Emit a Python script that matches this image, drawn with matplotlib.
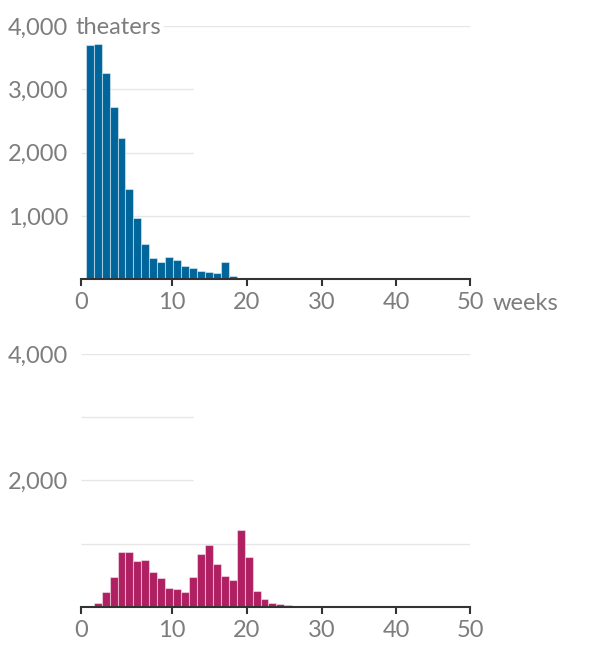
import numpy as np
import matplotlib
matplotlib.use("Agg")
import matplotlib.pyplot as plt

plt.rcParams['font.family'] = ['Lato', 'DejaVu Sans']

# ---- data ----
weeks_top = np.arange(1, 20)
theaters_top = [3695, 3720, 3257, 2720, 2236, 1421, 963, 562, 341, 268,
                352, 309, 215, 178, 131, 115, 95, 278, 52]
weeks_bottom = np.arange(1, 27)
theaters_bottom = [0, 54, 233, 465, 866, 866, 718, 739, 544, 454,
                   296, 285, 228, 475, 834, 976, 671, 481, 418, 1214,
                   781, 243, 117, 59, 43, 22]
x_tick_labels = ['0', '10', '20', '30', '40', '50']
top_y_ticks = [1000, 2000, 3000, 4000]
top_y_labels = ['1,000', '2,000', '3,000', '4,000']
bottom_y_ticks = [2000, 4000]
bottom_y_labels = ['2,000', '4,000']
grid_values = [1000, 2000, 3000, 4000]

# ---- style / layout ----
BLUE = '#00659b'
CLARET = '#b01f62'
GREY_TXT = '#7d7d7d'
AXIS_C = '#333333'
GRID_C = '#e6e6e6'
FS = 17
XMIN, XMAX = -0.1, 48.9
# tick label positions as drawn in the original (axis units)
x_tick_pos = [XMIN, 11.35, 20.76, 30.2, 39.55, XMAX]
SHORT_END = 13.96
TOP4000_START = 10.22

fig = plt.figure(figsize=(6, 6.58), dpi=100)
W, H = 600, 658
ax1 = fig.add_axes([81 / W, 1 - 279.3 / H, 389.3 / W, 253.3 / H])
ax2 = fig.add_axes([81 / W, 1 - 606.7 / H, 389.3 / W, 252.7 / H])


def style(ax):
    ax.set_xlim(XMIN, XMAX)
    ax.set_ylim(0, 4000)
    for s in ['top', 'right', 'left']:
        ax.spines[s].set_visible(False)
    ax.spines['bottom'].set_color(AXIS_C)
    ax.spines['bottom'].set_linewidth(1.5)
    ax.set_xticks(x_tick_pos)
    ax.set_xticklabels(x_tick_labels)
    ax.tick_params(axis='x', length=5, width=1.5, color=AXIS_C,
                   labelcolor=GREY_TXT, labelsize=FS, pad=4.5)
    ax.tick_params(axis='y', length=0, labelcolor=GREY_TXT, labelsize=FS,
                   pad=9.4)
    ax.set_facecolor('none')


style(ax1)
style(ax2)

# gridlines
for ax, is_top in [(ax1, True), (ax2, False)]:
    for g in grid_values:
        if g in (2000, 3000):
            xs, xe = XMIN, SHORT_END
        else:
            xs, xe = XMIN, XMAX
        if is_top and g == 4000:
            xs = TOP4000_START
        ax.hlines(g, xs, xe, color=GRID_C, lw=1, zorder=0)

ax1.bar(weeks_top, theaters_top, width=1, color=BLUE,
        edgecolor=(1, 1, 1, 0.45), linewidth=0.8, zorder=2)
ax2.bar(weeks_bottom, theaters_bottom, width=1, color=CLARET,
        edgecolor=(1, 1, 1, 0.45), linewidth=0.8, zorder=2)

ax1.set_yticks(top_y_ticks)
ax1.set_yticklabels(top_y_labels)
ax2.set_yticks(bottom_y_ticks)
ax2.set_yticklabels(bottom_y_labels)

ax1.annotate('theaters', xy=(0, 4000), xycoords=('axes fraction', 'data'),
             xytext=(-5.3, 0), textcoords='offset pixels', ha='left',
             va='center_baseline', color=GREY_TXT, fontsize=FS)
ax1.annotate('weeks', xy=(XMAX, 0), xycoords='data',
             xytext=(22, -13.2), textcoords='offset pixels', ha='left',
             va='top', color=GREY_TXT, fontsize=FS, annotation_clip=False)

fig.savefig('out.png', dpi=100)
